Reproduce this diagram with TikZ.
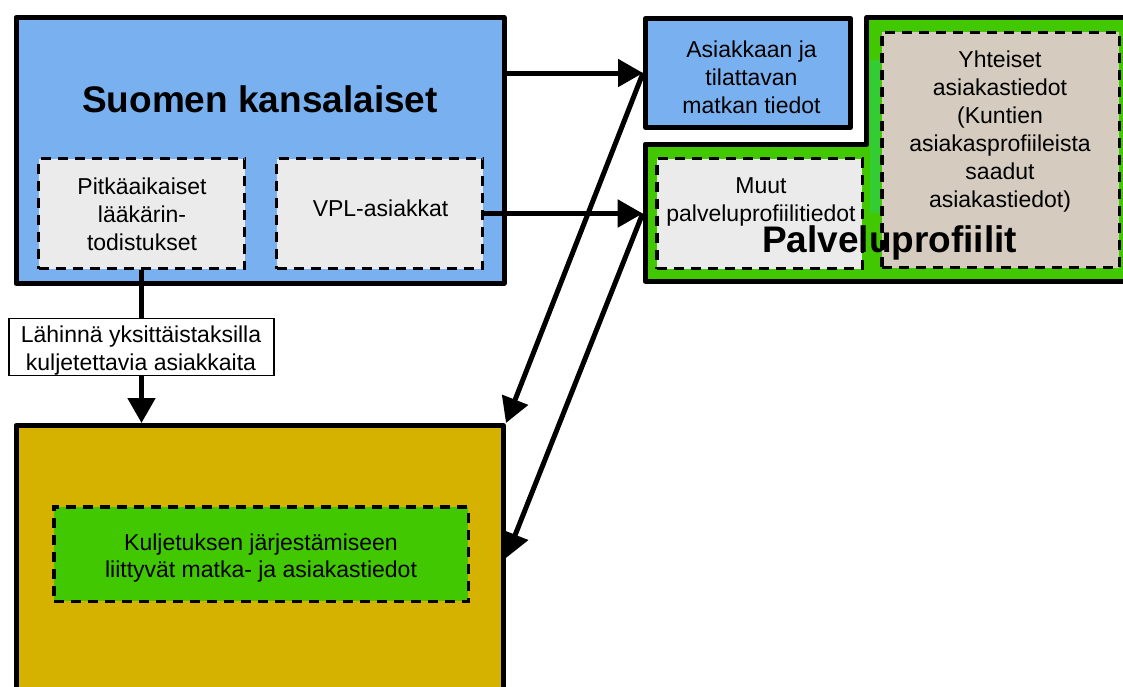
\documentclass[tikz,border=0pt]{standalone}
\usepackage{fontspec}
\setmainfont{Liberation Sans}
\usetikzlibrary{arrows.meta}

\definecolor{citizenblue}{RGB}{121,177,240}
\definecolor{lightgrey}{RGB}{235,235,235}
\definecolor{profilegreen}{RGB}{66,200,0}
\definecolor{profilegreentwo}{RGB}{51,204,51}
\definecolor{sharedtan}{RGB}{213,204,191}
\definecolor{transportyellow}{RGB}{214,178,0}

\begin{document}
\begin{tikzpicture}[x=1pt,y=-1pt,
  solidbox/.style={draw=black, line width=5pt, line join=round, inner sep=0pt},
  dashbox/.style={draw=black, line width=3.5pt, dash pattern=on 10pt off 7pt, inner sep=0pt},
  txt/.style={font=\fontsize{23}{27.8}\selectfont, align=center, inner sep=0pt},
  bigtxt/.style={font=\fontsize{37}{44}\selectfont\bfseries, inner sep=0pt},
  link/.style={draw=black, line width=5pt},
  arr/.style={link, -{Triangle[length=25pt,width=27pt]}}]

\useasboundingbox (0,0) rectangle (1123,686);

% citizens block with its two sub-groups
\node[solidbox, fill=citizenblue, minimum width=488pt, minimum height=266pt] (citizens) at (260,150.3) {};
\node[bigtxt, anchor=base] (citizens-title) at (260,112.5) {Suomen kansalaiset};
\node[dashbox, fill=lightgrey, minimum width=206pt, minimum height=110pt] (pitka) at (141.5,213.5) {};
\node[txt] (pitka-text) at (142,214.5) {Pitkäaikaiset\\lääkärin-\\todistukset};
\node[dashbox, fill=lightgrey, minimum width=206pt, minimum height=110pt] (vpl) at (379.5,213.5) {};
\node[txt] (vpl-text) at (380.5,208) {VPL-asiakkat};

% trip data
\node[solidbox, fill=citizenblue, minimum width=205pt, minimum height=109pt] (trip) at (748,73) {};
\node[txt] (trip-text) at (751.5,77.5) {Asiakkaan ja\\tilattavan\\matkan tiedot};

% service profiles (L-shaped container)
\draw[line width=5pt, line join=round, fill=profilegreen]
  (645.2,144.2) -- (866.8,144.2) -- (866.8,17.5) -- (1140,17.5) -- (1140,281) -- (645.2,281) -- cycle;
\fill[profilegreentwo] (870,60) rectangle (880,213);
\node[inner sep=0pt, outer sep=0pt, minimum width=480pt, minimum height=142pt, anchor=north west] (profiles) at (642.7,141.7) {};
\node[dashbox, fill=lightgrey, minimum width=205.5pt, minimum height=110pt] (muut) at (759.5,213.5) {};
\node[txt] (muut-text) at (761,202) {Muut\\palveluprofiilitiedot};
\node[dashbox, fill=sharedtan, minimum width=237.5pt, minimum height=235.1pt] (shared) at (1000.5,150) {};
\node[txt, font=\fontsize{23}{28}\selectfont] (shared-text) at (1000,131.5)
  {Yhteiset\\asiakastiedot\\(Kuntien\\asiakasprofiileista\\saadut\\asiakastiedot)};
\node[bigtxt, anchor=base] (profiles-title) at (889.5,252) {Palveluprofiilit};

% transport organisation
\node[solidbox, fill=transportyellow, minimum width=487.5pt, minimum height=300pt] (transport) at (259.75,575.5) {};
\node[dashbox, fill=profilegreen, minimum width=414.5pt, minimum height=94.5pt] (kulj) at (261,554) {};
\node[txt] (kulj-text) at (261,558) {Kuljetuksen järjestämiseen\\liittyvät matka- ja asiakastiedot};

% note on the vertical link
\node[draw=black, line width=1.5pt, fill=white, inner sep=0pt, minimum width=265pt, minimum height=57pt] (note) at (141.5,347) {};
\node[txt] (note-text) at (141,350.5) {Lähinnä yksittäistaksilla\\kuljetettavia asiakkaita};

% connectors
\draw[arr] (citizens.east |- trip.west) -- (trip.west);
\draw[arr] (vpl.east) -- (vpl.east -| profiles.west);
\draw[arr] (trip.west) -- (transport.north east);
\draw[arr] (vpl.east -| profiles.west) -- (transport.east |- kulj-text.center);
\draw[link] (pitka.south) -- (note.north);
\draw[arr] (note.south) -- (note.south |- transport.north);
\end{tikzpicture}
\end{document}
